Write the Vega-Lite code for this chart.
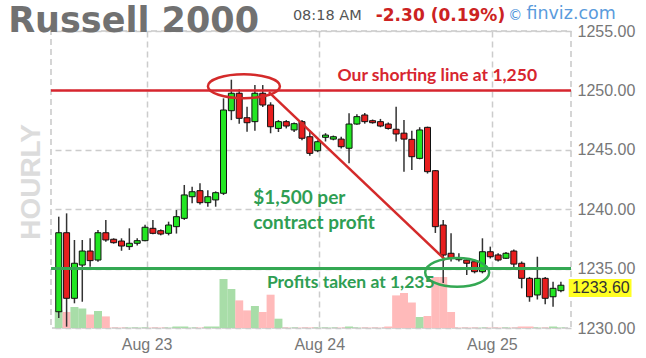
{
  "$schema": "https://vega.github.io/schema/vega-lite/v6.json",
  "width": 520,
  "height": 297,
  "autosize": {"type": "none"},
  "padding": {"left": 51, "top": 31, "right": 75, "bottom": 30},
  "background": "white",
  "view": {"stroke": "#c8c8c8", "strokeDash": [6, 4], "strokeWidth": 1.5},
  "config": {"font": "Liberation Sans"},
  "datasets": {
    "bars": [
      {"i": 0, "o": 1231.37, "h": 1239.37, "l": 1230.84, "c": 1238.02, "v": 17.6},
      {"i": 1, "o": 1238.02, "h": 1239.65, "l": 1230.11, "c": 1232.5, "v": 16},
      {"i": 2, "o": 1232.5, "h": 1237.41, "l": 1232.08, "c": 1235.45, "v": 21},
      {"i": 3, "o": 1235.3, "h": 1237.41, "l": 1232.21, "c": 1236.48, "v": 19.5},
      {"i": 4, "o": 1236.48, "h": 1237.55, "l": 1235.16, "c": 1235.67, "v": 13.5},
      {"i": 5, "o": 1235.72, "h": 1238.25, "l": 1235.58, "c": 1238.02, "v": 17},
      {"i": 6, "o": 1238.02, "h": 1239.09, "l": 1237.27, "c": 1237.41, "v": 11.6},
      {"i": 7, "o": 1237.47, "h": 1237.55, "l": 1237.1, "c": 1237.18, "v": 0.4},
      {"i": 8, "o": 1237.32, "h": 1237.55, "l": 1236.5, "c": 1236.9, "v": 0.4},
      {"i": 9, "o": 1236.85, "h": 1238.39, "l": 1236.57, "c": 1237.13, "v": 0.4},
      {"i": 10, "o": 1237.13, "h": 1237.55, "l": 1236.95, "c": 1237.35, "v": 0.4},
      {"i": 11, "o": 1237.35, "h": 1238.7, "l": 1237.3, "c": 1238.48, "v": 0.4},
      {"i": 12, "o": 1238.39, "h": 1239.09, "l": 1237.9, "c": 1237.97, "v": 0.4},
      {"i": 13, "o": 1238.19, "h": 1238.3, "l": 1237.8, "c": 1237.91, "v": 0.4},
      {"i": 14, "o": 1237.97, "h": 1238.95, "l": 1237.8, "c": 1238.67, "v": 0.4},
      {"i": 15, "o": 1238.53, "h": 1239.93, "l": 1237.95, "c": 1239.37, "v": 1.5},
      {"i": 16, "o": 1239.23, "h": 1242.04, "l": 1239.1, "c": 1241.2, "v": 1.5},
      {"i": 17, "o": 1241.05, "h": 1241.9, "l": 1240.5, "c": 1241.47, "v": 0.4},
      {"i": 18, "o": 1241.56, "h": 1242.18, "l": 1240.4, "c": 1240.55, "v": 0.4},
      {"i": 19, "o": 1240.55, "h": 1241.6, "l": 1240.2, "c": 1241.05, "v": 1.5},
      {"i": 20, "o": 1240.78, "h": 1241.5, "l": 1240.21, "c": 1241.39, "v": 1.5},
      {"i": 21, "o": 1241.34, "h": 1249.33, "l": 1241.2, "c": 1248.35, "v": 49},
      {"i": 22, "o": 1248.29, "h": 1250.9, "l": 1247.5, "c": 1249.76, "v": 39},
      {"i": 23, "o": 1249.76, "h": 1250.1, "l": 1247.2, "c": 1247.65, "v": 27.6},
      {"i": 24, "o": 1247.7, "h": 1248.63, "l": 1246.52, "c": 1247.28, "v": 17.6},
      {"i": 25, "o": 1247.37, "h": 1250.45, "l": 1246.6, "c": 1249.76, "v": 22},
      {"i": 26, "o": 1249.76, "h": 1250.45, "l": 1248.6, "c": 1248.77, "v": 16},
      {"i": 27, "o": 1248.77, "h": 1249.0, "l": 1246.39, "c": 1246.94, "v": 33.3},
      {"i": 28, "o": 1246.8, "h": 1247.5, "l": 1246.5, "c": 1247.37, "v": 9.3},
      {"i": 29, "o": 1247.37, "h": 1247.5, "l": 1246.8, "c": 1247.0, "v": 0.4},
      {"i": 30, "o": 1246.67, "h": 1247.3, "l": 1246.5, "c": 1247.2, "v": 0.4},
      {"i": 31, "o": 1247.37, "h": 1247.5, "l": 1245.8, "c": 1245.97, "v": 0.4},
      {"i": 32, "o": 1246.1, "h": 1246.6, "l": 1244.5, "c": 1244.7, "v": 0.4},
      {"i": 33, "o": 1244.92, "h": 1245.8, "l": 1244.8, "c": 1245.68, "v": 0.4},
      {"i": 34, "o": 1246.05, "h": 1246.4, "l": 1245.7, "c": 1246.24, "v": 0.4},
      {"i": 35, "o": 1245.9, "h": 1246.2, "l": 1245.8, "c": 1246.1, "v": 0.4},
      {"i": 36, "o": 1245.9, "h": 1246.1, "l": 1245.1, "c": 1245.26, "v": 0.4},
      {"i": 37, "o": 1245.13, "h": 1248.07, "l": 1243.86, "c": 1247.17, "v": 1.5},
      {"i": 38, "o": 1247.17, "h": 1248.0, "l": 1247.1, "c": 1247.79, "v": 0.4},
      {"i": 39, "o": 1247.93, "h": 1248.1, "l": 1247.2, "c": 1247.37, "v": 0.4},
      {"i": 40, "o": 1247.45, "h": 1247.55, "l": 1247.2, "c": 1247.28, "v": 0.4},
      {"i": 41, "o": 1247.37, "h": 1247.6, "l": 1246.9, "c": 1247.0, "v": 0.4},
      {"i": 42, "o": 1247.17, "h": 1247.3, "l": 1246.7, "c": 1246.8, "v": 1.5},
      {"i": 43, "o": 1246.73, "h": 1248.63, "l": 1245.7, "c": 1246.33, "v": 32.6},
      {"i": 44, "o": 1246.4, "h": 1247.5, "l": 1243.16, "c": 1245.9, "v": 35},
      {"i": 45, "o": 1245.88, "h": 1246.6, "l": 1243.3, "c": 1244.42, "v": 25.5},
      {"i": 46, "o": 1244.28, "h": 1246.9, "l": 1244.2, "c": 1246.67, "v": 11},
      {"i": 47, "o": 1246.89, "h": 1246.95, "l": 1243.0, "c": 1243.16, "v": 12},
      {"i": 48, "o": 1243.24, "h": 1243.3, "l": 1238.0, "c": 1238.53, "v": 51},
      {"i": 49, "o": 1238.67, "h": 1239.1, "l": 1233.79, "c": 1236.14, "v": 51},
      {"i": 50, "o": 1236.29, "h": 1237.97, "l": 1235.6, "c": 1235.87, "v": 16},
      {"i": 51, "o": 1235.9, "h": 1236.3, "l": 1235.6, "c": 1235.75, "v": 0.4},
      {"i": 52, "o": 1235.72, "h": 1235.85, "l": 1234.46, "c": 1235.45, "v": 0.4},
      {"i": 53, "o": 1235.58, "h": 1235.75, "l": 1234.6, "c": 1234.74, "v": 0.4},
      {"i": 54, "o": 1234.74, "h": 1237.55, "l": 1234.6, "c": 1236.42, "v": 0.4},
      {"i": 55, "o": 1236.42, "h": 1236.85, "l": 1235.85, "c": 1236.0, "v": 0.4},
      {"i": 56, "o": 1236.15, "h": 1236.3, "l": 1235.6, "c": 1235.72, "v": 0.4},
      {"i": 57, "o": 1235.87, "h": 1236.4, "l": 1235.8, "c": 1236.29, "v": 0.4},
      {"i": 58, "o": 1236.48, "h": 1236.6, "l": 1235.1, "c": 1235.38, "v": 0.4},
      {"i": 59, "o": 1235.45, "h": 1235.6, "l": 1233.34, "c": 1234.18, "v": 1.5},
      {"i": 60, "o": 1234.18, "h": 1234.3, "l": 1232.21, "c": 1232.63, "v": 1.5},
      {"i": 61, "o": 1232.78, "h": 1236.0, "l": 1232.4, "c": 1234.18, "v": 0.4},
      {"i": 62, "o": 1234.18, "h": 1234.3, "l": 1232.0, "c": 1232.5, "v": 0.4},
      {"i": 63, "o": 1232.63, "h": 1233.9, "l": 1231.79, "c": 1233.34, "v": 1.5},
      {"i": 64, "o": 1233.14, "h": 1233.9, "l": 1233.0, "c": 1233.6, "v": 0.4}
    ]
  },
  "data": {"name": "bars"},
  "layer": [
    {
      "mark": {"type": "bar", "size": 8},
      "encoding": {
        "x": {"field": "i", "type": "quantitative", "title": null, "scale": {"domain": [-0.35, 64.65], "nice": false, "zero": false},
          "axis": {"values": [11.2, 33.2, 55.2], "labelExpr": "datum.value < 20 ? 'Aug 23' : datum.value < 40 ? 'Aug 24' : 'Aug 25'", "grid": true, "gridDash": [6, 4], "gridColor": "#cccccc", "gridWidth": 1.5, "domain": false, "ticks": false, "labelFontSize": 16, "labelColor": "#777777", "labelPadding": 8, "title": null}},
        "y": {"field": "v", "type": "quantitative", "scale": {"domain": [0, 297], "nice": false}, "axis": null},
        "color": {"condition": {"test": "datum.c >= datum.o", "value": "#a8dda8"}, "value": "#ffbaba"}
      }
    },
    {
      "layer": [
        {
          "mark": {"type": "rule", "color": "#333333", "strokeWidth": 1.5},
          "encoding": {
            "x": {"field": "i", "type": "quantitative", "title": null},
            "y": {"field": "l", "type": "quantitative", "title": null, "scale": {"domain": [1230, 1255], "nice": false, "zero": false},
              "axis": {"orient": "right", "values": [1230, 1235, 1240, 1245, 1250, 1255], "format": ".2f", "grid": true, "gridDash": [6, 4], "gridColor": "#cccccc", "gridWidth": 1.5, "domain": false, "ticks": false, "labelFontSize": 16, "labelColor": "#777777", "labelPadding": 6, "labelOverlap": false, "title": null}},
            "y2": {"field": "h"}
          }
        },
        {
          "mark": {"type": "bar", "size": 6, "stroke": "#111111", "strokeWidth": 1},
          "encoding": {
            "x": {"field": "i", "type": "quantitative", "title": null},
            "y": {"field": "o", "type": "quantitative", "title": null},
            "y2": {"field": "c"},
            "color": {"condition": {"test": "datum.c >= datum.o", "value": "#22e622"}, "value": "#e81e1e"}
          }
        },
        {
          "data": {"values": [{}]},
          "mark": {"type": "rule", "color": "#d7262f", "strokeWidth": 2.5},
          "encoding": {"y": {"datum": 1250, "type": "quantitative"}}
        },
        {
          "data": {"values": [{}]},
          "mark": {"type": "rule", "color": "#34a853", "strokeWidth": 3},
          "encoding": {"y": {"datum": 1235, "type": "quantitative"}}
        },
        {
          "data": {"values": [{}]},
          "mark": {"type": "rule", "color": "#d42a2a", "strokeWidth": 2.5},
          "encoding": {
            "x": {"datum": 26.78, "type": "quantitative"},
            "x2": {"datum": 49.28},
            "y": {"datum": 1249.85, "type": "quantitative"},
            "y2": {"datum": 1235.73}
          }
        },
        {
          "data": {"values": [{}]},
          "mark": {"type": "point", "shape": "M-1,0A1,0.333,0,1,1,1,0A1,0.333,0,1,1,-1,0Z", "size": 5184, "filled": false, "stroke": "#d42a2a", "strokeWidth": 2.5, "opacity": 1},
          "encoding": {
            "x": {"datum": 23.6, "type": "quantitative"},
            "y": {"datum": 1250.35, "type": "quantitative"}
          }
        },
        {
          "data": {"values": [{}]},
          "mark": {"type": "point", "shape": "M-1,0A1,0.45,0,1,1,1,0A1,0.45,0,1,1,-1,0Z", "size": 4096, "filled": false, "stroke": "#34a853", "strokeWidth": 2.5, "opacity": 1},
          "encoding": {
            "x": {"datum": 50.78, "type": "quantitative"},
            "y": {"datum": 1234.68, "type": "quantitative"}
          }
        },
        {
          "data": {"values": [{}]},
          "mark": {"type": "text", "align": "left", "baseline": "middle", "font": "Lato", "fontWeight": "bold", "fontSize": 17.5, "color": "#d7262f"},
          "encoding": {
            "x": {"datum": 35.53, "type": "quantitative"},
            "y": {"datum": 1251.19, "type": "quantitative"},
            "text": {"value": "Our shorting line at 1,250"}
          }
        },
        {
          "data": {"values": [{}]},
          "mark": {"type": "text", "align": "left", "baseline": "middle", "font": "Lato", "fontWeight": "bold", "fontSize": 19, "color": "#2f9e53"},
          "encoding": {
            "x": {"datum": 24.78, "type": "quantitative"},
            "y": {"datum": 1240.92, "type": "quantitative"},
            "text": {"value": "$1,500 per"}
          }
        },
        {
          "data": {"values": [{}]},
          "mark": {"type": "text", "align": "left", "baseline": "middle", "font": "Lato", "fontWeight": "bold", "fontSize": 19, "color": "#2f9e53"},
          "encoding": {
            "x": {"datum": 24.78, "type": "quantitative"},
            "y": {"datum": 1238.82, "type": "quantitative"},
            "text": {"value": "contract profit"}
          }
        },
        {
          "data": {"values": [{}]},
          "mark": {"type": "text", "align": "left", "baseline": "middle", "font": "Lato", "fontWeight": "bold", "fontSize": 17.5, "color": "#2f9e53"},
          "encoding": {
            "x": {"datum": 26.53, "type": "quantitative"},
            "y": {"datum": 1233.77, "type": "quantitative"},
            "text": {"value": "Profits taken at 1,235"}
          }
        },
        {
          "data": {"values": [{}]},
          "mark": {"type": "text", "align": "center", "baseline": "middle", "angle": 270, "font": "Liberation Sans", "fontWeight": "bold", "fontSize": 28, "color": "#dcdcdc"},
          "encoding": {
            "x": {"datum": -3.35, "type": "quantitative"},
            "y": {"datum": 1242.29, "type": "quantitative"},
            "text": {"value": "HOURLY"}
          }
        },
        {
          "data": {"values": [{}]},
          "mark": {"type": "rect", "color": "#ffff22"},
          "encoding": {
            "x": {"datum": 65.0, "type": "quantitative"},
            "x2": {"datum": 73.0},
            "y": {"datum": 1234.12, "type": "quantitative"},
            "y2": {"datum": 1232.6}
          }
        },
        {
          "data": {"values": [{}]},
          "mark": {"type": "text", "align": "left", "baseline": "middle", "font": "Liberation Sans", "fontSize": 16, "color": "#333333"},
          "encoding": {
            "x": {"datum": 65.4, "type": "quantitative"},
            "y": {"datum": 1233.38, "type": "quantitative"},
            "text": {"value": "1233.60"}
          }
        },
        {
          "data": {"values": [{}]},
          "mark": {"type": "text", "align": "left", "baseline": "alphabetic", "font": "DejaVu Sans", "fontWeight": "bold", "fontSize": 35, "color": "#717171"},
          "encoding": {
            "x": {"datum": -6.45, "type": "quantitative"},
            "y": {"datum": 1254.92, "type": "quantitative"},
            "text": {"value": "Russell 2000"}
          }
        },
        {
          "data": {"values": [{}]},
          "mark": {"type": "text", "align": "left", "baseline": "middle", "font": "DejaVu Sans", "fontSize": 14.5, "color": "#555555"},
          "encoding": {
            "x": {"datum": 29.84, "type": "quantitative"},
            "y": {"datum": 1256.24, "type": "quantitative"},
            "text": {"value": "08:18 AM"}
          }
        },
        {
          "data": {"values": [{}]},
          "mark": {"type": "text", "align": "left", "baseline": "middle", "font": "DejaVu Sans", "fontWeight": "bold", "fontSize": 17, "color": "#cc2222"},
          "encoding": {
            "x": {"datum": 40.4, "type": "quantitative"},
            "y": {"datum": 1256.24, "type": "quantitative"},
            "text": {"value": "-2.30 (0.19%)"}
          }
        },
        {
          "data": {"values": [{}]},
          "mark": {"type": "text", "align": "left", "baseline": "middle", "font": "DejaVu Sans", "fontSize": 14, "color": "#4a90d9"},
          "encoding": {
            "x": {"datum": 57.3, "type": "quantitative"},
            "y": {"datum": 1256.3, "type": "quantitative"},
            "text": {"value": "©"}
          }
        },
        {
          "data": {"values": [{}]},
          "mark": {"type": "text", "align": "left", "baseline": "middle", "font": "DejaVu Sans", "fontSize": 17.5, "color": "#5a9bdc"},
          "encoding": {
            "x": {"datum": 59.6, "type": "quantitative"},
            "y": {"datum": 1256.4, "type": "quantitative"},
            "text": {"value": "finviz.com"}
          }
        }
      ]
    }
  ],
  "resolve": {"scale": {"y": "independent"}}
}
